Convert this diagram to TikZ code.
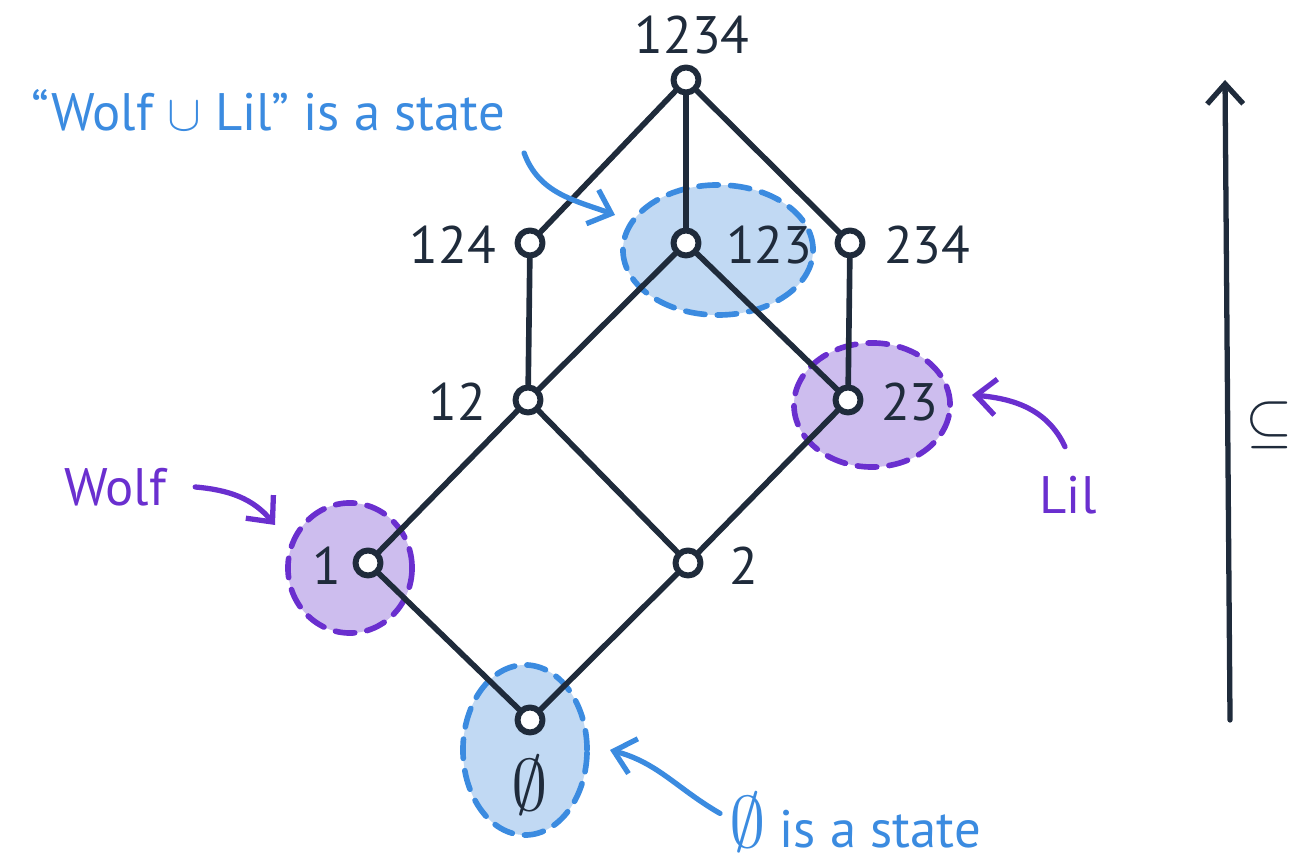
\documentclass[tikz,border=0pt]{standalone}
\usepackage{amsmath, amssymb}
\usepackage{fontspec}
\setmainfont{PT Sans}
\usepackage{tikz}
\usetikzlibrary{arrows.meta, shapes.geometric}
\definecolor{ink}{RGB}{31,43,59}
\definecolor{stateblue}{RGB}{59,139,224}
\definecolor{statefill}{RGB}{193,217,243}
\definecolor{lilac}{RGB}{106,47,207}
\definecolor{lilacfill}{RGB}{205,189,238}

\begin{document}
\begin{tikzpicture}[x=0.01cm, y=0.01cm, >={Straight Barb[length=2mm, width=3.6mm]},
  line cap=round, line join=round, font=\fontsize{15}{18}\selectfont,
  vtx/.style={circle, draw=ink, fill=white, line width=1.7pt, minimum size=2.5mm, inner sep=0pt},
  edge/.style={draw=ink, line width=1.6pt},
  lbl/.style={text=ink, inner sep=1pt},
  blob/.style={ellipse, dash pattern=on 5.5pt off 3.5pt, line width=1.6pt, inner sep=0pt},
  blueblob/.style={blob, draw=stateblue, fill=statefill},
  lilacblob/.style={blob, draw=lilac, fill=lilacfill},
  note/.style={inner sep=1pt},
  bluearrow/.style={->, draw=stateblue, line width=1.5pt},
  lilacarrow/.style={->, draw=lilac, line width=1.5pt}]
  \useasboundingbox (0,0) rectangle (1298,865);

  \node[blueblob, minimum width=1.9cm, minimum height=1.3cm] (b123) at (718,615) {};
  \node[lilacblob, minimum width=1.56cm, minimum height=1.24cm] (b23) at (872,460) {};
  \node[lilacblob, minimum width=1.24cm, minimum height=1.3cm] (b1) at (350,297) {};
  \node[blueblob, minimum width=1.24cm, minimum height=1.7cm] (b0) at (525,115) {};

  \node[vtx] (n1234) at (686,785) {};
  \node[vtx] (n124) at (530,622) {};
  \node[vtx] (n123) at (686,622) {};
  \node[vtx] (n234) at (850,622) {};
  \node[vtx] (n12) at (528,465) {};
  \node[vtx] (n23) at (848,465) {};
  \node[vtx] (n1) at (368,302) {};
  \node[vtx] (n2) at (688,302) {};
  \node[vtx] (n0) at (530,145) {};

  \draw[edge] (n1234) -- (n124);
  \draw[edge] (n1234) -- (n123);
  \draw[edge] (n1234) -- (n234);
  \draw[edge] (n124) -- (n12);
  \draw[edge] (n123) -- (n12);
  \draw[edge] (n123) -- (n23);
  \draw[edge] (n234) -- (n23);
  \draw[edge] (n12) -- (n1);
  \draw[edge] (n12) -- (n2);
  \draw[edge] (n23) -- (n2);
  \draw[edge] (n1) -- (n0);
  \draw[edge] (n2) -- (n0);

  \node[lbl] (l1234) at (692,830) {1234};
  \node[lbl, anchor=east] (l124) at (500,620) {124};
  \node[lbl, anchor=west] (l123) at (722,620) {123};
  \node[lbl, anchor=west] (l234) at (880,620) {234};
  \node[lbl, anchor=east] (l12) at (490,463) {12};
  \node[lbl, anchor=west] (l23) at (877,463) {23};
  \node[lbl, anchor=east] (l1) at (345,299) {1};
  \node[lbl, anchor=west] (l2) at (725,299) {2};
  \node[lbl, font=\fontsize{22}{22}\selectfont] (l0) at (530,80) {$\emptyset$};

  \node[note, text=stateblue] (wl) at (268,755) {“Wolf $\cup$ Lil” is a state};
  \coordinate (wlTip) at (615,650);
  \draw[bluearrow] ([xshift=0.15cm, yshift=-0.18cm]wl.south east) to[out=-70, in=160] (wlTip);

  \node[note, text=lilac] (wolf) at (115,378) {Wolf};
  \coordinate (wolfTip) at (275,340);
  \draw[lilacarrow] ([xshift=0.25cm]wolf.east) to[out=-5, in=130] (wolfTip);

  \node[note, text=lilac] (lil) at (1068,370) {Lil};
  \coordinate (lilTip) at (972,470);
  \draw[lilacarrow] ([xshift=-0.03cm, yshift=0.25cm]lil.north) to[out=115, in=-5] (lilTip);

  \node[note, text=stateblue] (es) at (855,43) {{\fontsize{20}{20}\selectfont$\emptyset$} is a state};
  \coordinate (esTip) at (610,115);
  \draw[bluearrow] ([xshift=-0.05cm, yshift=-0.25cm]es.north west) to[out=150, in=-15] (esTip);

  \coordinate (up0) at (1230,145);
  \coordinate (up1) at (1225,785);
  \draw[->, draw=ink, line width=1.5pt] (up0) -- (up1);
  \node[lbl, anchor=east, font=\fontsize{18}{18}\selectfont] (sub) at (1297,440) {$\subseteq$};
\end{tikzpicture}
\end{document}
